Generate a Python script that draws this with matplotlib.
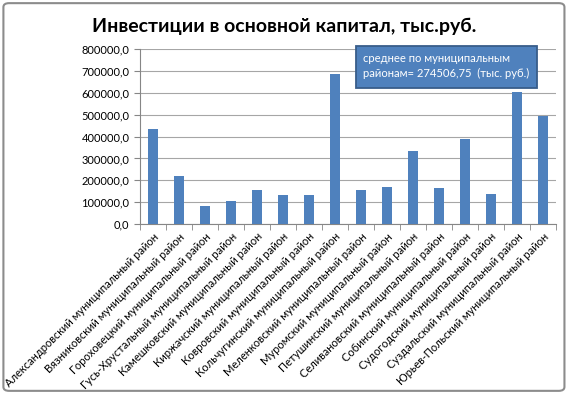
import matplotlib.pyplot as plt
import matplotlib.ticker as mticker
from matplotlib.patches import FancyBboxPatch, Rectangle
import numpy as np

plt.rcParams['font.family'] = ['Lato', 'DejaVu Sans']

districts = [
    "Александровский муниципальный район",
    "Вязниковский муниципальный район",
    "Гороховецкий муниципальный район",
    "Гусь-Хрустальный муниципальный район",
    "Камешковский муниципальный район",
    "Киржачский муниципальный район",
    "Ковровский муниципальный район",
    "Кольчугинский муниципальный район",
    "Меленковский муниципальный район",
    "Муромский муниципальный район",
    "Петушинский муниципальный район",
    "Селивановский муниципальный район",
    "Собинский муниципальный район",
    "Судогодский муниципальный район",
    "Суздальский муниципальный район",
    "Юрьев-Польский муниципальный район",
]
investment = [433000, 221000, 85000, 108000, 154000, 134000, 134000, 686000,
              154000, 169000, 334000, 163000, 389000, 139000, 602000, 492000]
mean_text = "среднее по муниципальным\nрайонам= 274506,75  (тыс. руб.)"

fig = plt.figure(figsize=(5.69, 3.94), dpi=100)
ax = fig.add_axes([0.246, 0.431, 0.731, 0.445])

x = np.arange(len(districts))
ax.bar(x, investment, width=0.4, color="#4F81BD", zorder=3)

ax.set_ylim(0, 800000)
ax.set_xlim(-0.5, len(districts) - 0.5)
ax.yaxis.set_major_locator(mticker.MultipleLocator(100000))
ax.yaxis.set_major_formatter(mticker.FuncFormatter(lambda v, p: f"{v:.1f}".replace(".", ",")))
ax.grid(axis="y", color="#A6A6A6", linewidth=0.8, zorder=0)

ax.set_xticks(x)
ax.set_xticklabels(districts, rotation=45, ha="right", rotation_mode="anchor", fontsize=8)
ax.tick_params(axis="x", length=0, pad=5)
ax.set_xticks(np.arange(-0.5, len(districts)), minor=True)
ax.tick_params(axis="x", which="minor", length=4, color="#868686")
ax.tick_params(axis="y", labelsize=8, length=4, color="#868686")

for s in ["top", "right"]:
    ax.spines[s].set_visible(False)
ax.spines["left"].set_color("#868686")
ax.spines["bottom"].set_color("#868686")

fig.suptitle("Инвестиции в основной капитал, тыс.руб.", x=0.5, y=0.955,
             fontsize=14, fontweight="bold")

# callout with the mean value
fig.patches.append(Rectangle((0.6257, 0.7774), 0.318, 0.1066, transform=fig.transFigure,
                             facecolor="#4F81BD", edgecolor="#385D8A", linewidth=1.3,
                             zorder=5))
fig.text(0.638, 0.832, mean_text, color="white", fontsize=8.1, va="center", ha="left",
         linespacing=1.5, zorder=6)

# outer frame
fig.patches.append(FancyBboxPatch((0.006, 0.008), 0.986, 0.984, boxstyle="round,pad=0,rounding_size=0.01",
                                  transform=fig.transFigure, facecolor="none",
                                  edgecolor="#8C8C8C", linewidth=1.5))

fig.savefig("out.png", dpi=100)
